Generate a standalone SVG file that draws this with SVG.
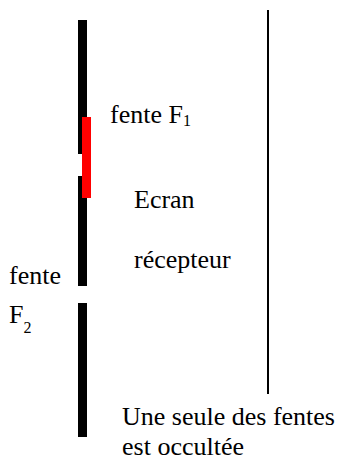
<svg xmlns="http://www.w3.org/2000/svg" width="341" height="461" viewBox="0 0 341 461">
<style>
text{font-family:"Liberation Serif","Times New Roman",serif;font-size:26px;fill:#000}
.sub{font-size:16px}
.bar{fill:#000}
</style>
<rect width="341" height="461" fill="#fff"/>
<g id="plaque">
<rect class="bar" x="78" y="20" width="9" height="134"/>
<rect class="bar" x="78" y="176" width="9" height="110"/>
<rect class="bar" x="78" y="303" width="9" height="134"/>
</g>
<g id="cache">
<rect x="82" y="117" width="9" height="81" fill="#ff0000"/>
</g>
<g id="ecran">
<line x1="268" y1="10" x2="268" y2="394" stroke="#000" stroke-width="2"/>
</g>
<g id="labels">
<text x="110" y="123">fente F<tspan class="sub" dy="3">1</tspan></text>
<text x="134" y="208">Ecran</text>
<text x="134" y="268">récepteur</text>
<text x="9" y="284">fente</text>
<text x="9" y="323">F<tspan class="sub" dy="10">2</tspan></text>
<text x="122" y="425">Une seule des fentes</text>
<text x="122" y="455">est occultée</text>
</g>
</svg>
